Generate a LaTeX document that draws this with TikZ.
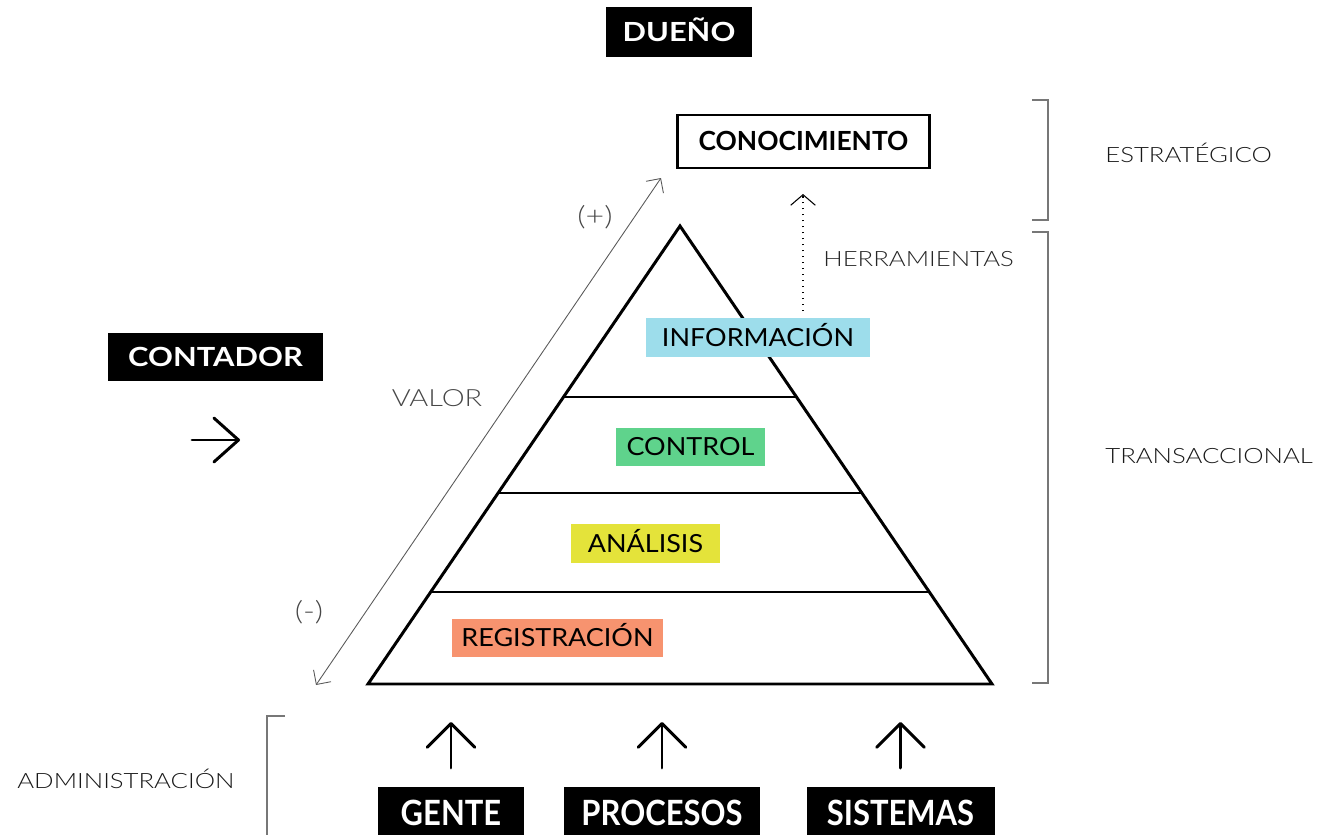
\documentclass[tikz,border=0pt]{standalone}
\usepackage{fontspec}
\setmainfont{Lato}
\IfFontExistsTF{Lato Light}
  {\newfontfamily\labelfont[FakeStretch=1.22]{Lato Light}}
  {\newfontfamily\labelfont[FakeStretch=1.22]{Lato}}
\newfontfamily\levelfont[FakeStretch=1.08]{Lato}
\newfontfamily\tagfont[FakeStretch=1.17]{Lato}
\newfontfamily\inputfont[FakeStretch=0.89]{Lato}
\usepackage{tikz}
\usetikzlibrary{arrows.meta}
\usetikzlibrary{calc}

\definecolor{infocyan}{HTML}{9DDDEB}
\definecolor{ctrlgreen}{HTML}{5FD38C}
\definecolor{analyellow}{HTML}{E4E33A}
\definecolor{regorange}{HTML}{F7936F}
\definecolor{bracketgray}{HTML}{777777}

\begin{document}
\begin{tikzpicture}[x=0.02cm,y=-0.02cm]
      \useasboundingbox (0,0) rectangle (1343,835);

      % pyramid
      \coordinate (apex) at (680,226);
      \coordinate (bl) at (368,684);
      \coordinate (br) at (992,684);
      \draw[line width=1.7pt] (apex) -- (bl) -- (br) -- cycle;
      \foreach \f in {0.3734,0.5830,0.7991}
        \draw[line width=1.5pt] ($(apex)!\f!(bl)$) -- ($(apex)!\f!(br)$);

      \begin{scope}[every node/.style={fill=black,text=white,
          text depth=0pt,inner xsep=0pt}]
        \begin{scope}[every node/.append style={font=\tagfont\bfseries\fontsize{15}{18}\selectfont,
            text height=10.8pt}]
          \node[minimum width=82.8pt,minimum height=28.3pt] (dueno) at (679,32) {DUEÑO};
          \node[minimum width=121.9pt,minimum height=27.2pt] (contador) at (215.5,357) {CONTADOR};
        \end{scope}
        \begin{scope}[every node/.append style={font=\inputfont\bfseries\fontsize{19.8}{22}\selectfont,
            text height=14.2pt,minimum height=29.5pt}]
          \node[minimum width=82.8pt] (gente) at (451,813) {GENTE};
          \node[minimum width=111pt] (procesos) at (662,813) {PROCESOS};
          \node[minimum width=107pt] (sistemas) at (900.5,813) {SISTEMAS};
        \end{scope}
      \end{scope}

      \node[draw=black,line width=1.5pt,font=\bfseries\fontsize{15}{18}\selectfont,
        text height=10.8pt,text depth=0pt,minimum width=143.4pt,minimum height=30pt]
        (conocimiento) at (803.5,141.5) {CONOCIMIENTO};

      \begin{scope}[every node/.style={text=black,font=\levelfont\fontsize{14.2}{16}\selectfont,
          text height=10.2pt,text depth=0pt,minimum height=21.8pt,inner xsep=0pt}]
        \node[fill=infocyan,minimum width=127pt] (informacion) at (758,337.5) {INFORMACIÓN};
        \node[fill=ctrlgreen,minimum width=84.5pt] (control) at (690.5,447) {CONTROL};
        \node[fill=analyellow,minimum width=84.5pt] (analisis) at (645.5,543.5) {ANÁLISIS};
        \node[fill=regorange,minimum width=119.6pt] (registracion) at (557.5,638) {REGISTRACIÓN};
      \end{scope}

      \begin{scope}[every node/.style={text=black!90,font=\labelfont\fontsize{12}{14}\selectfont,inner sep=0pt}]
        \node[anchor=west,text=black!85] (herramientas) at (823,259.5) {HERRAMIENTAS};
        \node[anchor=west] (estrategico) at (1105,153) {ESTRATÉGICO};
        \node[anchor=west] (transaccional) at (1105,456) {TRANSACCIONAL};
        \node[anchor=west] (administracion) at (17,779) {ADMINISTRACIÓN};
      \end{scope}
      \begin{scope}[every node/.style={text=black!72,inner sep=0pt}]
        \node[font=\labelfont\fontsize{13.5}{15}\selectfont] (valor) at (437,398) {VALOR};
        \node[font=\labelfont\fontsize{15}{17}\selectfont] (mas) at (595,217) {(+)};
        \node[font=\labelfont\fontsize{15}{17}\selectfont] (menos) at (309,612) {(-)};
      \end{scope}

      % arrows
      \coordinate (vlow) at (316,685);
      \coordinate (vhigh) at (661,178);
      \draw[black!65,line width=0.5pt,
        {Straight Barb[length=6pt,width=12pt]}-{Straight Barb[length=6pt,width=12pt]}] (vlow) -- (vhigh);

      \coordinate (hfoot) at (803,311);
      \coordinate (htip) at (803,194);
      \draw[line width=0.6pt,dash pattern=on 0.8pt off 2.6pt,
        -{Straight Barb[length=6pt,width=14pt]}] (hfoot) -- (htip);

      \begin{scope}[line width=1.7pt,line cap=round]
        \coordinate (cfoot) at (192,440);
        \coordinate (ctip) at (240,440);
        \draw[-{Straight Barb[length=14pt,width=25pt,round]}] (cfoot) -- (ctip);
        \foreach \x/\n in {451/g,662/p,900.5/s} {
          \coordinate (\n foot) at (\x,768);
          \coordinate (\n tip) at (\x,722);
          \draw[-{Straight Barb[length=13.5pt,width=27pt,round]}] (\n foot) -- (\n tip);
        }
      \end{scope}

      % brackets
      \begin{scope}[bracketgray,line width=0.7pt]
        \draw (1032,100) -- (1048,100) -- (1048,220) -- (1032,220);
        \draw (1032,232) -- (1048,232) -- (1048,683) -- (1032,683);
        \draw (285,716) -- (267,716) -- (267,840);
      \end{scope}
    \end{tikzpicture}
\end{document}
